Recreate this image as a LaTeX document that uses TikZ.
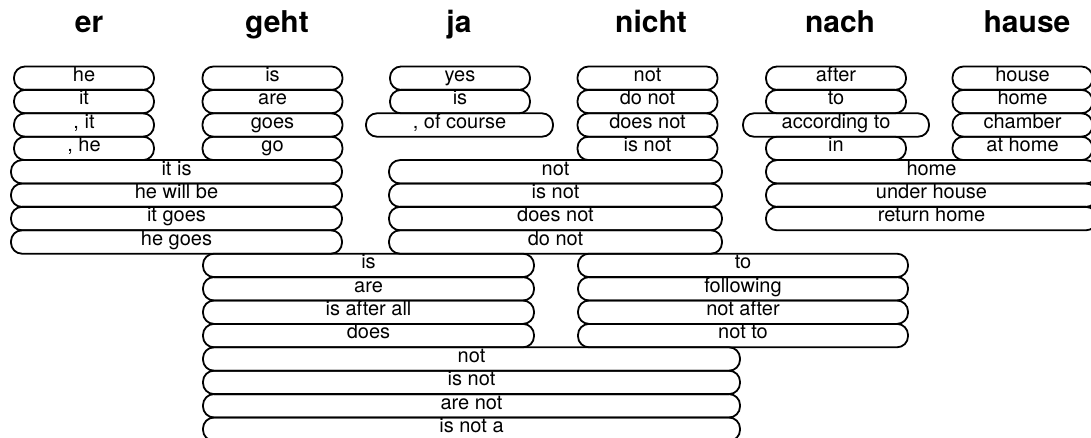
\documentclass[tikz,border=0pt]{standalone}
\usepackage{fontspec}
\setmainfont{TeX Gyre Heros}
\usepackage{tikz}

\begin{document}
\begin{tikzpicture}[x=1pt, y=-1pt,
    word/.style={font=\bfseries\fontsize{30}{30}\selectfont, anchor=base, inner sep=0pt},
    phrase/.style={draw, line width=1.8pt, rounded corners=11pt, minimum height=23.4pt,
        minimum width=140pt, inner sep=0pt, text height=12pt, text depth=5.4pt,
        font=\fontsize{20}{20}\selectfont}]
    \useasboundingbox (0,0) rectangle (1091,438);
    \clip (0,0) rectangle (1091,438);
    % Define source words
    \node[word] (er) at (89,33) {er};
    \node[word] (geht) at (277,33) {geht};
    \node[word] (ja) at (459,33) {ja};
    \node[word] (nicht) at (651,33) {nicht};
    \node[word] (nach) at (840,33) {nach};
    \node[word] (hause) at (1027,33) {hause};
    % Define single word phrases
    \node[phrase] (er1) at (84,78.2) {he};
    \node[phrase] (er2) at (84,101.6) {it};
    \node[phrase] (er3) at (84,125) {, it};
    \node[phrase] (er4) at (84,148.4) {, he};
    \node[phrase] (geht1) at (272.5,78.2) {is};
    \node[phrase] (geht2) at (272.5,101.6) {are};
    \node[phrase] (geht3) at (272.5,125) {goes};
    \node[phrase] (geht4) at (272.5,148.4) {go};
    \node[phrase] (ja1) at (460,78.2) {yes};
    \node[phrase] (ja2) at (460,101.6) {is};
    \node[phrase, minimum width=187pt] (ja3) at (459.5,125) {, of course};
    \node[phrase] (nicht1) at (647.5,78.2) {not};
    \node[phrase] (nicht2) at (647.5,101.6) {do not};
    \node[phrase] (nicht3) at (647.5,125) {does not};
    \node[phrase] (nicht4) at (647.5,148.4) {is not};
    \node[phrase] (nach1) at (836,78.2) {after};
    \node[phrase] (nach2) at (836,101.6) {to};
    \node[phrase, minimum width=186pt] (nach3) at (836,125) {according to};
    \node[phrase] (nach4) at (836,148.4) {in};
    \node[phrase] (hause1) at (1022.5,78.2) {house};
    \node[phrase] (hause2) at (1022.5,101.6) {home};
    \node[phrase] (hause3) at (1022.5,125) {chamber};
    \node[phrase] (hause4) at (1022.5,148.4) {at home};
    % Define two word phrases
    \node[phrase, minimum width=331pt] (ergeht1) at (176.5,171.8) {it is};
    \node[phrase, minimum width=331pt] (ergeht2) at (176.5,195.2) {he will be};
    \node[phrase, minimum width=331pt] (ergeht3) at (176.5,218.6) {it goes};
    \node[phrase, minimum width=331pt] (ergeht4) at (176.5,242) {he goes};
    \node[phrase, minimum width=333pt] (janicht1) at (555.5,171.8) {not};
    \node[phrase, minimum width=333pt] (janicht2) at (555.5,195.2) {is not};
    \node[phrase, minimum width=333pt] (janicht3) at (555.5,218.6) {does not};
    \node[phrase, minimum width=333pt] (janicht4) at (555.5,242) {do not};
    \node[phrase, minimum width=331pt] (nachhause1) at (931.5,171.8) {home};
    \node[phrase, minimum width=331pt] (nachhause2) at (931.5,195.2) {under house};
    \node[phrase, minimum width=331pt] (nachhause3) at (931.5,218.6) {return home};
    \node[phrase, minimum width=331pt] (gehtja1) at (368.5,265.4) {is};
    \node[phrase, minimum width=331pt] (gehtja2) at (368.5,288.8) {are};
    \node[phrase, minimum width=331pt] (gehtja3) at (368.5,312.2) {is after all};
    \node[phrase, minimum width=331pt] (gehtja4) at (368.5,335.6) {does};
    \node[phrase, minimum width=330pt] (nichtnach1) at (743,265.4) {to};
    \node[phrase, minimum width=330pt] (nichtnach2) at (743,288.8) {following};
    \node[phrase, minimum width=330pt] (nichtnach3) at (743,312.2) {not after};
    \node[phrase, minimum width=330pt] (nichtnach4) at (743,335.6) {not to};
    % Define three word phrases
    \node[phrase, minimum width=537pt] (gehtjanicht1) at (471.5,359) {not};
    \node[phrase, minimum width=537pt] (gehtjanicht2) at (471.5,382.4) {is not};
    \node[phrase, minimum width=537pt] (gehtjanicht3) at (471.5,405.8) {are not};
    \node[phrase, minimum width=537pt] (gehtjanicht4) at (471.5,429.2) {is not a};
\end{tikzpicture}
\end{document}
